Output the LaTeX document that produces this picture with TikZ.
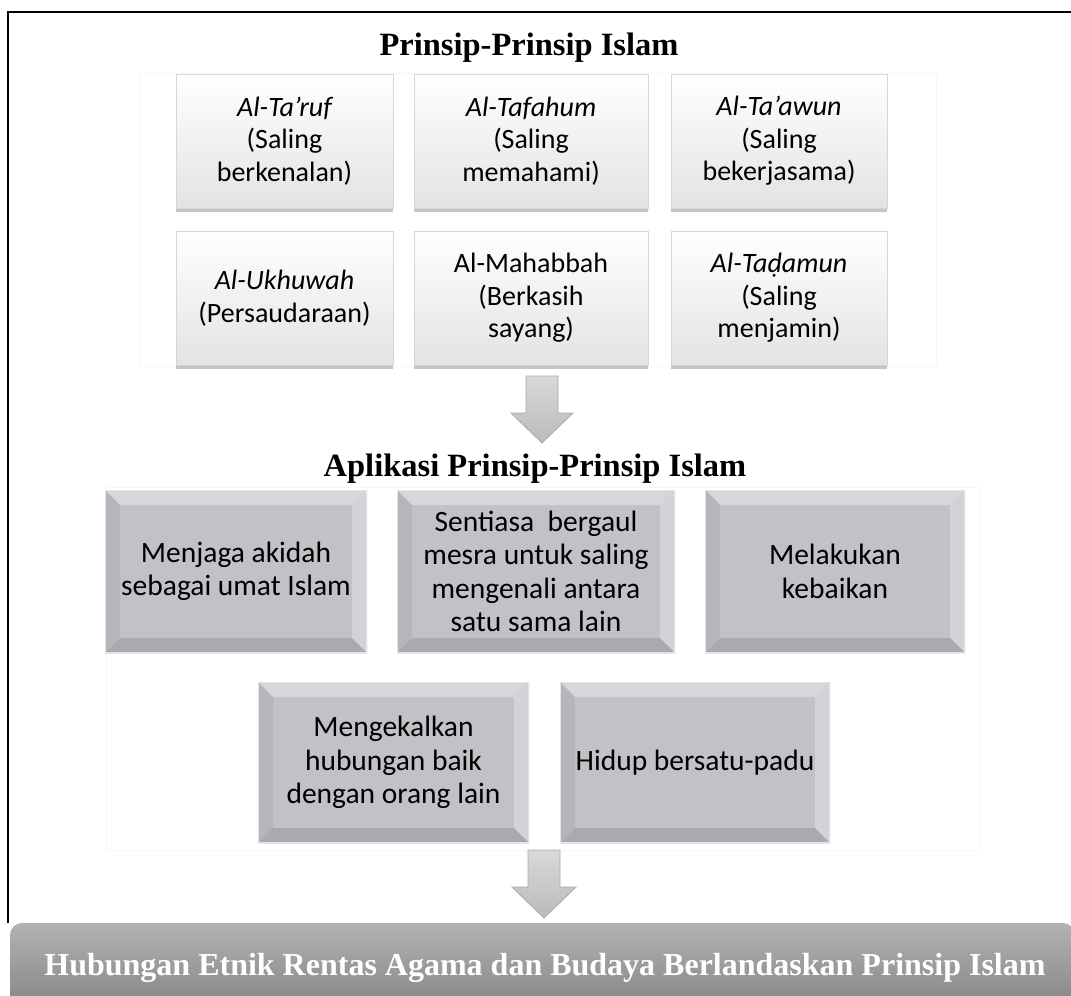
\documentclass[tikz,border=0pt]{standalone}
\usepackage{fontspec}
\setmainfont{Liberation Serif}
\newfontfamily\boxfont{Carlito}
\usetikzlibrary{shadows}
\definecolor{bvtop}{HTML}{D6D6DC}
\definecolor{bvleft}{HTML}{B5B5BB}
\definecolor{bvright}{HTML}{D2D2D9}
\definecolor{bvbot}{HTML}{A9A9AE}
\definecolor{bvmid}{HTML}{C1C1C6}
\definecolor{bvedge}{HTML}{E3E3E8}
\definecolor{arredge}{HTML}{ABABAB}
\tikzset{
  lightbox/.style={draw=black!16, line width=0.8pt, top color=white, bottom color=black!11,
    drop shadow={shadow xshift=0pt, shadow yshift=-4pt, opacity=0.45},
    inner sep=0pt, align=center, font=\boxfont\fontsize{28}{32.5}\selectfont},
  darkbox/.style={fill=bvmid, inner sep=0pt, align=center,
    font=\boxfont\fontsize{29.5}{33.5}\selectfont,
    path picture={
      \coordinate (pnw) at (path picture bounding box.north west);
      \coordinate (pne) at (path picture bounding box.north east);
      \coordinate (psw) at (path picture bounding box.south west);
      \coordinate (pse) at (path picture bounding box.south east);
      \fill[bvtop] (pnw) -- (pne) -- ([xshift=-15pt,yshift=-15pt]pne) -- ([xshift=15pt,yshift=-15pt]pnw) -- cycle;
      \fill[bvleft] (pnw) -- (psw) -- ([xshift=15pt,yshift=15pt]psw) -- ([xshift=15pt,yshift=-15pt]pnw) -- cycle;
      \fill[bvright] (pne) -- (pse) -- ([xshift=-15pt,yshift=15pt]pse) -- ([xshift=-15pt,yshift=-15pt]pne) -- cycle;
      \fill[bvbot] (psw) -- (pse) -- ([xshift=-15pt,yshift=15pt]pse) -- ([xshift=15pt,yshift=15pt]psw) -- cycle;
      \draw[bvedge, line width=2.5pt] (pnw) rectangle (pse);
    }},
  blockarrow/.style={top color=black!15, bottom color=black!27, draw=arredge, line width=0.8pt},
  faintbg/.style={draw=black!3, line width=0.6pt},
  title/.style={font=\bfseries\fontsize{32.5}{36}\selectfont, inner sep=0pt}
}
\begin{document}
\begin{tikzpicture}[x=1pt,y=-1pt]
\useasboundingbox (0,0) rectangle (1071,996);
\fill[white] (0,0) rectangle (1071,996);

% faint backgrounds
\draw[faintbg] (140,73) rectangle (936,366);
\draw[faintbg] (106,487) rectangle (980,850);

% title 1
\node[title] (t1) at (529,48) {Prinsip-Prinsip Islam};

% top grid
\node[lightbox, minimum width=217pt, minimum height=134pt] (p1) at (284.5,141) {\itshape Al-Ta’ruf\\(Saling\\berkenalan)};
\node[lightbox, minimum width=234pt, minimum height=134pt] (p2) at (531,141) {\itshape Al-Tafahum\\(Saling\\memahami)};
\node[lightbox, minimum width=216pt, minimum height=134pt] (p3) at (779,141) {\itshape Al-Ta’awun\\(Saling\\bekerjasama)};
\node[lightbox, minimum width=217pt, minimum height=134pt] (p4) at (284.5,298) {\itshape Al-Ukhuwah\\(Persaudaraan)};
\node[lightbox, minimum width=234pt, minimum height=134pt] (p5) at (531,298) {Al-Mahabbah\\(Berkasih\\sayang)};
\node[lightbox, minimum width=216pt, minimum height=134pt] (p6) at (779,298) {\itshape Al-Taḍamun\\(Saling\\menjamin)};

% arrow 1
\coordinate (a1t) at (542,443);
\draw[blockarrow] (526,376) -- (558,376) -- (558,413) -- (573,413) -- (a1t) -- (511,413) -- (526,413) -- cycle;

% title 2
\node[title] (t2) at (535,469) {Aplikasi Prinsip-Prinsip Islam};

% application boxes
\node[darkbox, minimum width=262pt, minimum height=163pt] (b1) at (236,571.5) {Menjaga akidah\\sebagai umat Islam};
\node[darkbox, minimum width=278pt, minimum height=163pt] (b2) at (536,571.5) {Sentiasa~ bergaul\\mesra untuk saling\\mengenali antara\\satu sama lain};
\node[darkbox, minimum width=260pt, minimum height=163pt] (b3) at (835,571.5) {Melakukan\\kebaikan};
\node[darkbox, minimum width=271pt, minimum height=161pt] (b4) at (393.5,762.5) {Mengekalkan\\hubungan baik\\dengan orang lain};
\node[darkbox, minimum width=270pt, minimum height=161pt] (b5) at (695,762.5) {Hidup bersatu-padu};

% arrow 2
\coordinate (a2t) at (544,918);
\draw[blockarrow] (528,850) -- (560,850) -- (560,887) -- (576,887) -- (a2t) -- (512,887) -- (528,887) -- cycle;

% banner
\shade[top color=black!30, bottom color=black!46]
  (10,1000) -- (10,935) [rounded corners=12pt] -- (10,923) -- (1075,923) [sharp corners] -- (1075,1000) -- cycle;
\node[inner sep=0pt, text=white, font=\bfseries\fontsize{32}{36}\selectfont] (res) at (545,968)
      {Hubungan Etnik Rentas Agama dan Budaya Berlandaskan Prinsip Islam};

% outer frame
\draw[line width=2.2pt, line join=miter] (8,923) -- (8,12) -- (1075,12);
\end{tikzpicture}
\end{document}
